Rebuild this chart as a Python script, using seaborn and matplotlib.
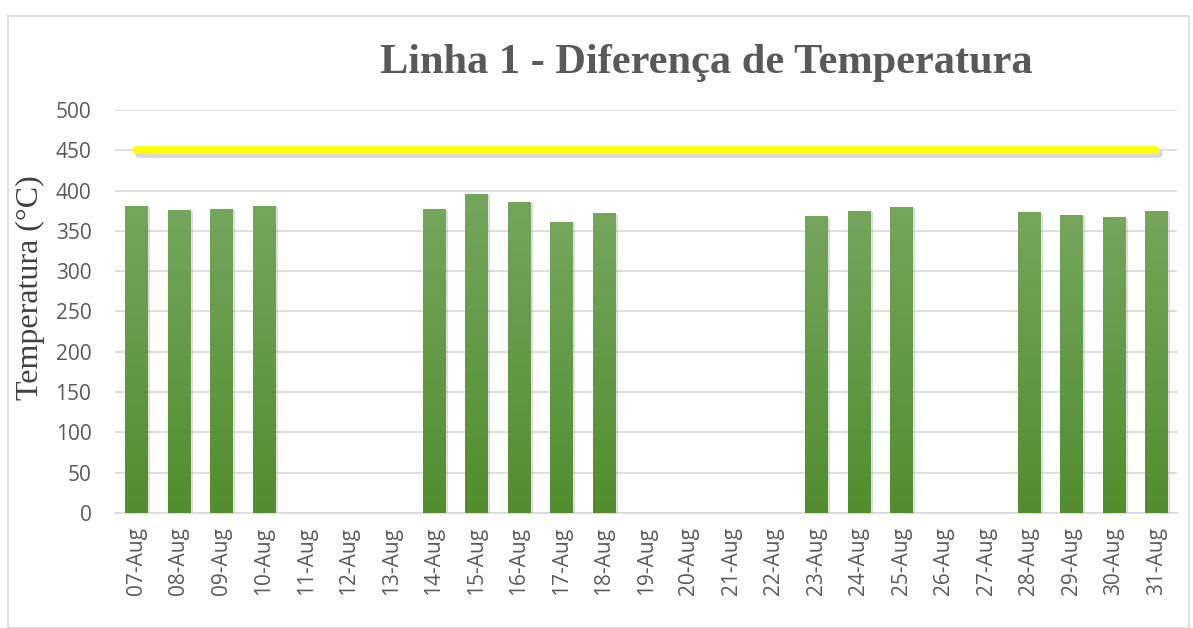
import numpy as np
import pandas as pd
import seaborn as sns
import matplotlib.pyplot as plt
import matplotlib.patheffects as pe
from matplotlib.colors import LinearSegmentedColormap
from matplotlib.patches import Rectangle

sns.set_style("white")

# data (days without a bar are missing)
dias = ["07-Aug", "08-Aug", "09-Aug", "10-Aug", "11-Aug", "12-Aug", "13-Aug",
        "14-Aug", "15-Aug", "16-Aug", "17-Aug", "18-Aug", "19-Aug", "20-Aug",
        "21-Aug", "22-Aug", "23-Aug", "24-Aug", "25-Aug", "26-Aug", "27-Aug",
        "28-Aug", "29-Aug", "30-Aug", "31-Aug"]
diferenca = [381, 376, 377, 381, 0, 0, 0,
             377, 396, 386, 361, 372, 0, 0,
             0, 0, 368, 375, 380, 0, 0,
             373, 370, 367, 375]
limite = [450] * len(dias)

df = pd.DataFrame({"dia": dias, "temp": diferenca, "limite": limite})

fig = plt.figure(figsize=(11.93, 6.28), dpi=100)
ax = fig.add_axes([0.0964, 0.183, 0.8906, 0.642])

sns.barplot(data=df, x="dia", y="temp", color="#5f9640", width=0.52,
            saturation=1, ax=ax, zorder=3)

# gradient fill + soft shadow on each bar
cmap = LinearSegmentedColormap.from_list("verde", ["#528d2e", "#74a65c"])
grad = np.linspace(0, 1, 256).reshape(-1, 1)
for p in list(ax.patches):
    h = p.get_height()
    if h <= 0:
        p.set_visible(False)
        continue
    x0, w = p.get_x(), p.get_width()
    p.set_path_effects([pe.SimplePatchShadow(offset=(2, -1), shadow_rgbFace="#888888", alpha=0.3),
                        pe.Normal()])
    im = ax.imshow(grad, cmap=cmap, aspect="auto", origin="lower",
                   extent=[x0, x0 + w, 0, h], zorder=4)
    im.set_clip_path(Rectangle((x0, 0), w, h, transform=ax.transData))

sns.lineplot(data=df, x="dia", y="limite", color="#ffff00", linewidth=5.5,
             ax=ax, zorder=5, solid_capstyle="round",
             path_effects=[pe.SimpleLineShadow(offset=(2, -3), shadow_color="#666666", alpha=0.25),
                           pe.Normal()])

ax.set_xlim(-0.5, len(dias) - 0.5)
ax.set_ylim(0, 500)
ax.set_yticks(range(0, 501, 50))
ax.yaxis.grid(True, color="#d9d9d9", linewidth=1.2, zorder=0)
ax.set_axisbelow(True)

for s in ["top", "right", "left"]:
    ax.spines[s].set_visible(False)
ax.spines["bottom"].set_color("#d9d9d9")
ax.spines["bottom"].set_linewidth(1.2)

ax.set_xticks(range(len(dias)))
ax.set_xticklabels(dias, rotation=90, fontsize=15, color="#595959", family="Open Sans")
ax.set_xticks(np.arange(-0.5, len(dias)), minor=True)
ax.tick_params(axis="x", which="major", length=0, pad=10)
ax.tick_params(axis="x", which="minor", length=6, color="#d9d9d9", width=1.2)
ax.tick_params(axis="y", length=0, labelsize=15, labelcolor="#595959", pad=17)
for t in ax.get_yticklabels():
    t.set_family("Open Sans")

ax.set_xlabel("")
ax.set_ylabel("Temperatura (°C)", fontsize=23, family="Liberation Serif", color="#404040")
ax.yaxis.set_label_coords(-0.066, 0.558)

fig.text(0.592, 0.9, "Linha 1 - Diferença de Temperatura", ha="center", va="center",
         fontsize=30.5, fontweight="bold", family="Liberation Serif", color="#595959")

# chart area border
fig.patches.append(Rectangle((0.007, 0.0), 0.99, 0.974, transform=fig.transFigure,
                             fill=False, edgecolor="#d9d9d9", linewidth=1.2))

fig.savefig("out.png", dpi=100)
